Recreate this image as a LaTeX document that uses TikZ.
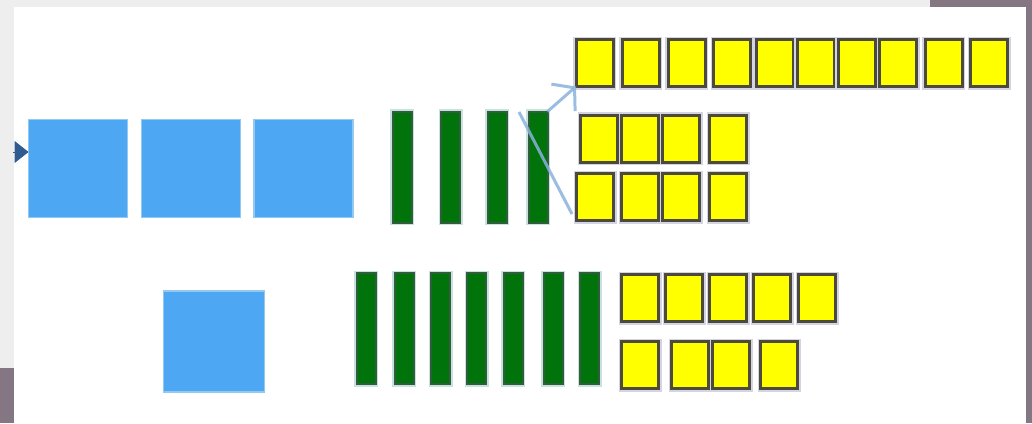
\documentclass[tikz,border=0pt]{standalone}
\usetikzlibrary{arrows.meta}
\definecolor{bgl}{HTML}{EEEEEE}
\definecolor{mauve}{HTML}{857683}
\definecolor{sqblue}{HTML}{4EA7F2}
\definecolor{sqedge}{HTML}{93C9F0}
\definecolor{rodfill}{HTML}{00730A}
\definecolor{rodedge}{HTML}{2E5E3C}
\definecolor{rodhalo}{HTML}{C9E2DD}
\definecolor{unitedge}{HTML}{4C4A3A}
\definecolor{unithalo}{HTML}{D4D4E4}
\definecolor{unitfill}{HTML}{FFFF00}
\definecolor{linkblue}{HTML}{8AB2DE}
\definecolor{arrowdark}{HTML}{2F5B8F}
\begin{document}
\begin{tikzpicture}[x=1pt,y=-1pt,
  flat/.style={rectangle, inner sep=0pt, outer sep=0pt},
  hundred/.style={flat, fill=sqblue, draw=sqedge, line width=1.5pt, minimum width=99pt, minimum height=98pt},
  ten/.style={flat, preaction={draw=rodhalo, line width=5pt}, fill=rodfill, draw=rodedge, line width=2pt, minimum width=19pt, minimum height=111pt},
  one/.style={flat, preaction={draw=unithalo, line width=6pt}, fill=unitfill, draw=unitedge, line width=3pt, minimum width=37pt, minimum height=47pt},
  link/.style={draw=linkblue, line width=3pt, opacity=0.85}]
\useasboundingbox (0,0) rectangle (1032,423);
% backdrop
\fill[bgl] (0,0) rectangle (1032,423);
\fill[mauve] (930,0) rectangle (1032,423);
\fill[mauve] (0,368) rectangle (14,423);
\fill[white] (14,7) rectangle (1026,423);
% hundreds
\node[hundred] (h1) at (78,168.5) {};
\node[hundred] (h2) at (191,168.5) {};
\node[hundred] (h3) at (303.5,168.5) {};
\node[hundred, minimum width=101pt, minimum height=101pt] (h4) at (214,341.5) {};
% tens, top
\node[ten] (t1) at (402,167) {};
\node[ten] (t2) at (450.5,167) {};
\node[ten] (t3) at (497,167) {};
\node[ten] (t4) at (538,167) {};
% tens, bottom
\node[ten] (b1) at (366,328.5) {};
\node[ten] (b2) at (404,328.5) {};
\node[ten] (b3) at (440.5,328.5) {};
\node[ten] (b4) at (476.5,328.5) {};
\node[ten] (b5) at (513,328.5) {};
\node[ten] (b6) at (553,328.5) {};
\node[ten] (b7) at (589.5,328.5) {};
% ones, top row
\node[one] (o1) at (594.5,63) {};
\node[one] (o2) at (640.5,63) {};
\node[one] (o3) at (686.5,63) {};
\node[one] (o4) at (732,63) {};
\node[one] (o5) at (774.5,63) {};
\node[one] (o6) at (815.5,63) {};
\node[one] (o7) at (856.5,63) {};
\node[one] (o8) at (898,63) {};
\node[one] (o9) at (943.5,63) {};
\node[one] (o10) at (989,63) {};
% ones, second and third rows
\node[one] (p1) at (599,138.5) {};
\node[one] (p2) at (640,138.5) {};
\node[one] (p3) at (681,138.5) {};
\node[one] (p4) at (728,138.5) {};
\node[one] (q1) at (595,197) {};
\node[one] (q2) at (640,197) {};
\node[one] (q3) at (681,197) {};
\node[one] (q4) at (728,197) {};
% ones, bottom group
\node[one] (r1) at (640,298) {};
\node[one] (r2) at (684,298) {};
\node[one] (r3) at (728,298) {};
\node[one] (r4) at (772,298) {};
\node[one] (r5) at (817,298) {};
\node[one] (s1) at (640,365) {};
\node[one] (s2) at (690,365) {};
\node[one] (s3) at (731,365) {};
\node[one] (s4) at (779,365) {};
% connectors
\coordinate (inflow) at (13,152);
\draw[draw=arrowdark, line width=1pt, -{Triangle[length=14pt,width=22pt]}] (inflow) -- (h1.west |- inflow);
\draw[link, -{Straight Barb[length=15pt,width=36pt]}] (t4.north east) -- (o1.south west);
\coordinate (slantA) at (519,112);
\coordinate (slantB) at (572,214);
\draw[link] (slantA) -- (slantB);
\end{tikzpicture}
\end{document}
